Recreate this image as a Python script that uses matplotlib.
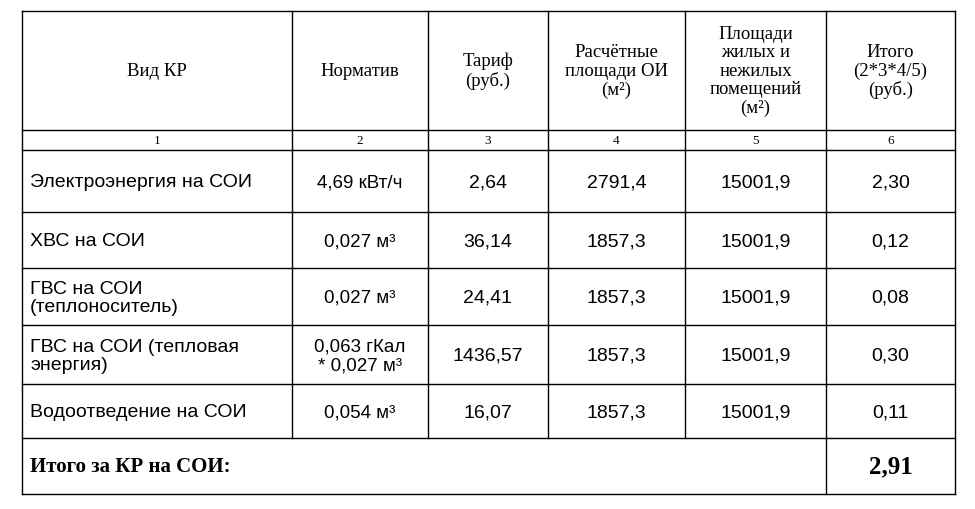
import matplotlib
matplotlib.use("Agg")
import matplotlib.pyplot as plt

headers = ["Вид КР", "Норматив", "Тариф\n(руб.)", "Расчётные\nплощади ОИ\n(м²)",
           "Площади\nжилых и\nнежилых\nпомещений\n(м²)", "Итого\n(2*3*4/5)\n(руб.)"]
col_numbers = ["1", "2", "3", "4", "5", "6"]
kinds = ["Электроэнергия на СОИ", "ХВС на СОИ", "ГВС на СОИ\n(теплоноситель)",
         "ГВС на СОИ (тепловая\nэнергия)", "Водоотведение на СОИ"]
norms = ["4,69 кВт/ч", "0,027 м³", "0,027 м³", "0,063 гКал\n* 0,027 м³", "0,054 м³"]
tariffs = ["2,64", "36,14", "24,41", "1436,57", "16,07"]
areas_oi = ["2791,4", "1857,3", "1857,3", "1857,3", "1857,3"]
areas_res = ["15001,9", "15001,9", "15001,9", "15001,9", "15001,9"]
totals = ["2,30", "0,12", "0,08", "0,30", "0,11"]
total_label = "Итого за КР на СОИ:"
total_value = "2,91"

xs = [22, 292, 428, 548, 685, 826, 955]
ys = [12, 131, 151, 213, 269, 326, 385, 439, 495]

fig = plt.figure(figsize=(9.75, 5.10), dpi=100)
ax = fig.add_axes([0, 0, 1, 1])
ax.set_xlim(0, 975); ax.set_ylim(510, 0); ax.axis("off")
serif = ['Liberation Serif', 'DejaVu Serif']
sans = ['Liberation Sans', 'DejaVu Sans']

lw = 1.0
for y in ys:
    ax.plot([xs[0], xs[-1]], [y, y], color="black", lw=lw)
for i, x in enumerate(xs):
    y1 = ys[-1] if i in (0, 5, 6) else ys[-2]
    ax.plot([x, x], [ys[0], y1], color="black", lw=lw)

cx = [(xs[i] + xs[i+1]) / 2 for i in range(6)]
hy = (ys[0] + ys[1]) / 2
for i, h in enumerate(headers):
    ax.text(cx[i], hy, h, ha="center", va="center", fontsize=13.5, linespacing=1.12, family=serif)
for i, n in enumerate(col_numbers):
    ax.text(cx[i], (ys[1] + ys[2]) / 2, n, ha="center", va="center", fontsize=9.5, family=serif)

cols = [norms, tariffs, areas_oi, areas_res, totals]
for r in range(len(kinds)):
    yc = (ys[r + 2] + ys[r + 3]) / 2 + 1
    ax.text(30, yc, kinds[r], ha="left", va="center", fontsize=14, linespacing=1.15, family=sans)
    for c, col in enumerate(cols):
        ax.text(cx[c + 1], yc, col[r], ha="center", va="center",
                fontsize=14 if c > 0 else 13.5, linespacing=1.15, family=sans)

yt = (ys[-2] + ys[-1]) / 2
ax.text(30, yt, total_label, ha="left", va="center", fontsize=15, fontweight="bold", family=serif)
ax.text(cx[5], yt, total_value, ha="center", va="center", fontsize=18, fontweight="bold", family=serif)

fig.savefig("out.png", dpi=100)
